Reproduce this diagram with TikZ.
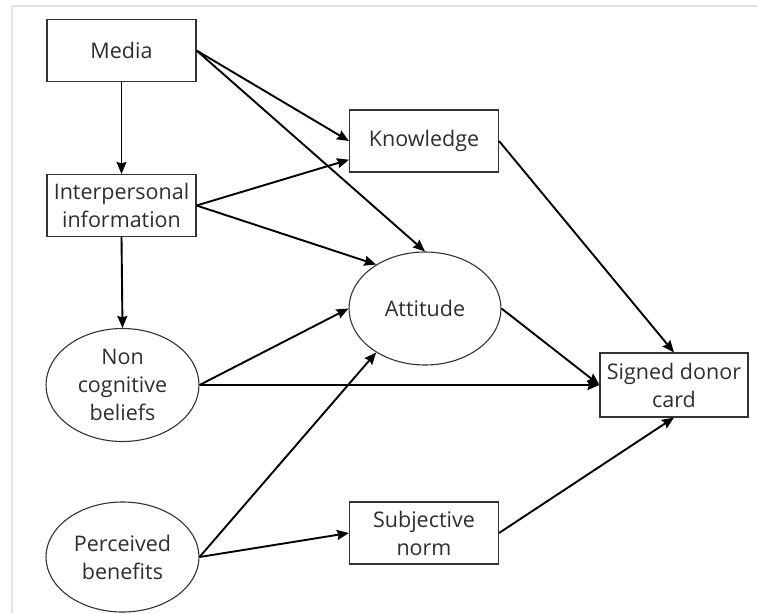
\documentclass[tikz,border=0pt]{standalone}
\usepackage{fontspec}
\setmainfont{Open Sans}
\usetikzlibrary{shapes.geometric,arrows.meta}
\definecolor{txt}{HTML}{2E2E2E}
\definecolor{frame}{HTML}{E2E2E2}
\tikzset{
  boxnode/.style={draw=black!80, line width=1.1pt, rectangle, minimum width=149pt, minimum height=62pt, inner sep=0pt, align=center, text=txt, font=\fontsize{21.5}{28}\selectfont},
  ellnode/.style={draw=black!80, line width=1.1pt, ellipse, minimum width=153pt, minimum height=113pt, inner sep=0pt, align=center, text=txt, font=\fontsize{21.5}{28}\selectfont},
  conn/.style={draw=black, line width=1.9pt, -{Stealth[length=12pt,width=10pt,inset=1.5pt]}}
}
\begin{document}
\begin{tikzpicture}[x=1pt,y=-1pt]
\useasboundingbox (0,0) rectangle (757,613);
\draw[frame, line width=2pt] (12,613) -- (12,6) -- (757,6);
\node[boxnode] (media) at (121.5,50.5) {Media};
\node[boxnode] (ip) at (121.5,205.5) {Interpersonal\\information};
\node[boxnode] (kn) at (424,141) {Knowledge};
\node[ellnode, minimum width=152pt] (att) at (425,308.5) {Attitude};
\node[ellnode] (nc) at (122.5,385) {Non\\cognitive\\beliefs};
\node[ellnode, minimum height=110pt] (pb) at (122.5,557) {Perceived\\benefits};
\node[boxnode] (sn) at (424,533) {Subjective\\norm};
\node[boxnode, minimum width=148pt, minimum height=64pt] (sig) at (674,385) {Signed donor\\card};
\draw[conn] (media.south) -- (ip.north);
\draw[conn] (ip.south) -- (nc.north);
\draw[conn] (media.east) -- (kn.west);
\draw[conn] (media.east) -- (att.north);
\draw[conn] (ip.east) -- (kn.194);
\draw[conn] (ip.east) -- (att.138);
\draw[conn] (nc.east) -- (att.west);
\draw[conn] (nc.east) -- (sig.west);
\draw[conn] (pb.east) -- (att.222);
\draw[conn] (pb.east) -- (sn.west);
\draw[conn] (kn.east) -- (sig.north);
\draw[conn] (att.east) -- (sig.west);
\draw[conn] (sn.east) -- (sig.south);
\end{tikzpicture}
\end{document}
